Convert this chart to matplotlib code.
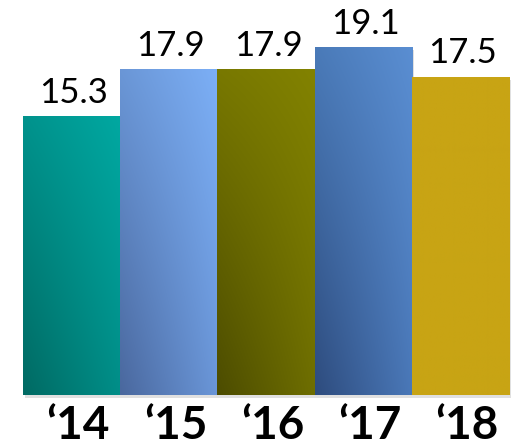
import numpy as np
import matplotlib.pyplot as plt
from matplotlib.colors import to_rgb

years = ["\u201814", "\u201815", "\u201816", "\u201817", "\u201818"]
values = [15.3, 17.9, 17.9, 19.1, 17.5]

# corner colours of each bar: bottom-left, bottom-right, top-left, top-right
corners = [
    ["#006a63", "#008e88", "#00928c", "#00a8a1"],
    ["#4a689e", "#6a96d8", "#6a96d6", "#7caff6"],
    ["#4c4c00", "#6e6e00", "#787800", "#828200"],
    ["#2e4c7e", "#4a78b8", "#4a7ab8", "#5a8ed2"],
    ["#c8a414", "#c8a414", "#c8a414", "#c8a414"],
]

W, H = 516, 448
fig = plt.figure(figsize=(W / 100, H / 100), dpi=100)
# axes placed in pixels: bars span x 23..509, baseline at y=395
x0, x1, base = 23, 509, 395
ax = fig.add_axes([x0 / W, (H - base) / H, (x1 - x0) / W, base / H])
px_per_unit = 18.17
ax.set_xlim(-0.5, len(values) - 0.5)
ax.set_ylim(0, base / px_per_unit)
ax.axis("off")

plt.rcParams["font.family"] = ["Lato", "DejaVu Sans"]


def gradient(cs, n=64):
    bl, br, tl, tr = [np.array(to_rgb(c)) for c in cs]
    u = np.linspace(0, 1, n)[None, :, None]
    v = np.linspace(0, 1, n)[:, None, None]
    bottom = bl * (1 - u) + br * u
    top = tl * (1 - u) + tr * u
    return bottom * (1 - v) + top * v


unit_x = (len(values)) / (x1 - x0)
unit_y = 1 / px_per_unit
for i, (val, cs) in enumerate(zip(values, corners)):
    # soft drop shadow
    ax.add_patch(plt.Rectangle((i - 0.5 + 2 * unit_x, -2.5 * unit_y), 1, val,
                               color="#000000", alpha=0.12, lw=0, zorder=1,
                               clip_on=False))
    ax.imshow(gradient(cs), extent=(i - 0.5, i + 0.5, 0, val), origin="lower",
              aspect="auto", interpolation="bilinear", zorder=2 + i * 0.01)
    ax.text(i + 0.02, val + 8 * unit_y, f"{val}", ha="center", va="bottom",
            fontsize=25, color="#000000", zorder=5)
    ax.text(i + 0.07, -44 * unit_y, years[i], ha="center", va="baseline",
            fontsize=33, fontweight="bold", color="#000000", zorder=5,
            clip_on=False)

ax.set_xlim(-0.5, len(values) - 0.5)
ax.set_ylim(0, base / px_per_unit)

fig.savefig("out.png", dpi=100)
